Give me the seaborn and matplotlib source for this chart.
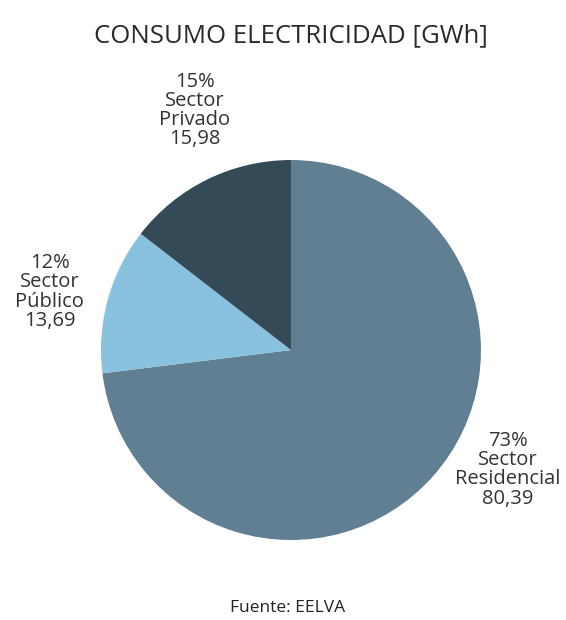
import matplotlib
matplotlib.use("Agg")
import matplotlib.pyplot as plt
import seaborn as sns

sns.set_theme(style="white")
plt.rcParams['font.family'] = ['Open Sans', 'DejaVu Sans']

sectors = ["Sector\nResidencial", "Sector\nPúblico", "Sector\nPrivado"]
values = [80.39, 13.69, 15.98]
value_labels = ["80,39", "13,69", "15,98"]
colors = ["#607f92", "#89c2de", "#344a56"]
label_pos = [(1.14, -0.63), (-1.27, 0.305), (-0.505, 1.26)]

fig = plt.figure(figsize=(5.66, 6.20), dpi=100)
ax = fig.add_axes([0.1784, 0.129, 0.6714, 0.6129])
ax.pie(values, colors=colors, startangle=90, counterclock=False,
       radius=1.0, wedgeprops=dict(linewidth=0))
ax.set_xlim(-1, 1)
ax.set_ylim(-1, 1)
ax.set_aspect("equal")
ax.axis("off")

total = sum(values)
for s, v, vl, (x, y) in zip(sectors, values, value_labels, label_pos):
    pct = round(v / total * 100)
    ax.text(x, y, f"{pct}%\n{s}\n{vl}", ha="center", va="center",
            fontsize=14.5, color="#333333", linespacing=0.95, clip_on=False)

fig.text(0.514, 0.943, "CONSUMO ELECTRICIDAD [GWh]", ha="center", va="center",
         fontsize=18.5, color="#2a2a2a")
fig.text(0.508, 0.019, "Fuente: EELVA", ha="center", va="center",
         fontsize=12.5, color="#222222")

fig.savefig("out.png", dpi=100, facecolor="white")
